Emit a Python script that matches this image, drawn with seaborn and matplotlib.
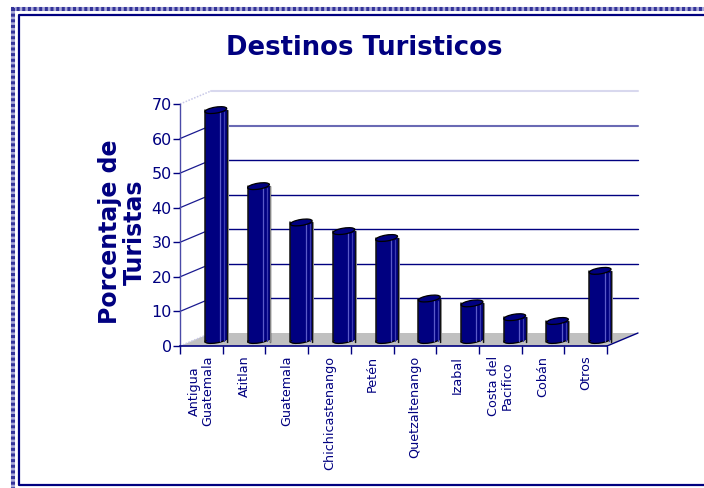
#!/usr/bin/env python3
"""Destinos Turisticos: pseudo 3D cylinder bars on a back wall."""

import matplotlib
matplotlib.use("Agg")
import matplotlib.pyplot as plt
import pandas as pd
import seaborn as sns
from matplotlib.patches import Ellipse, Polygon
from matplotlib.transforms import Affine2D

destinos = ['Antigua\nGuatemala', 'Atitlan', 'Guatemala', 'Chichicastenango', 'Petén',
            'Quetzaltenango', 'Izabal', 'Costa del\nPacifico', 'Cobán', 'Otros']
porcentaje = [66.5, 44.5, 34, 31.5, 29.5, 12, 10.6, 6.6, 5.5, 20]
y_ticks = [0, 10, 20, 30, 40, 50, 60, 70]

NAVY = '#000080'
W, H = 704, 488

sns.set_theme(style='white')
plt.rcParams['font.family'] = ['DejaVu Sans']

df = pd.DataFrame({'destino': destinos, 'porcentaje': porcentaje})

fig = plt.figure(figsize=(W / 100, H / 100), dpi=100, facecolor='white')

# pixel canvas behind the chart, for frame, floor and wall
bg = fig.add_axes([0, 0, 1, 1], zorder=0)
bg.set_xlim(0, W)
bg.set_ylim(H, 0)
bg.axis('off')

# chart axes sit exactly on the front plane
x0, x1, y_base, y_top = 180, 607, 346, 104
ax = fig.add_axes([x0 / W, 1 - y_base / H, (x1 - x0) / W, (y_base - y_top) / H], zorder=1)
ax.patch.set_alpha(0)

sns.barplot(data=df, x='destino', y='porcentaje', color=NAVY, width=0.515, saturation=1,
            ax=ax, zorder=3)
ax.set_xlim(-0.5, len(destinos) - 0.5)
ax.set_ylim(0, 70)

# outer dotted frame
for xs, ys in [((11, W), (9, 9)), ((13, 13), (8, H))]:
    bg.plot(xs, ys, color='#a8a8d8', lw=2.9, solid_capstyle='butt')
    bg.plot(xs, ys, color='#33339a', lw=2.9, dashes=(0.75, 0.65))
# inner frame, open on the right like the original
bg.plot([W, 18.5, 18.5, W], [14.5, 14.5, 485, 485], color=NAVY, lw=1.6)

# floor and walls
dx, dy = 31, 13
bg.add_patch(Polygon([(x0, y_base), (x1, y_base), (x1 + dx, y_base - dy), (x0 + dx, y_base - dy)],
                     facecolor='#c0c0c0', edgecolor='none', zorder=1))
bg.plot([x1, x1 + dx], [y_base, y_base - dy], color=NAVY, lw=1, zorder=2)
wall = ax.transData + Affine2D().translate(dx, dy)
for v in y_ticks[1:]:
    line_col = {70: '#d8d8ee', 60: '#6a6ab4'}.get(v, NAVY)
    ax.plot([-0.5, 9.5], [v, v], color=line_col, lw=1.5 if v > 50 else 1, transform=wall,
            clip_on=False, zorder=1)
    if v < 70:
        yp = ax.transData.transform((0, v))[1]
        bg.plot([x0, x0 + dx], [H - yp, H - yp - dy], color='#1a1a90', lw=0.9, zorder=1)
for yv in [y_base, y_top]:
    bg.plot([x0, x0 + dx], [yv, yv - dy], color='#c8c8e8', lw=1.1, ls=(0, (1, 1)), zorder=1)

# cylinders: push the bars to mid depth and cap them
shift_x, shift_y = 14.5, 6
to_px = bg.transData.inverted()
for bar in ax.patches:
    bar.set_transform(ax.transData + Affine2D().translate(shift_x, shift_y))
    bar.set_edgecolor('none')
    bar.set_clip_on(False)
    left = bar.get_x()
    right = left + bar.get_width()
    top = bar.get_height()
    px_l, py_top = to_px.transform(ax.transData.transform((left, top)) + (shift_x, shift_y))
    px_r, py_base = to_px.transform(ax.transData.transform((right, 0)) + (shift_x, shift_y))
    cx = (px_l + px_r) / 2
    w = px_r - px_l
    ax.add_patch(Ellipse((cx, py_base), w, 6, angle=-9, facecolor=NAVY, edgecolor='black', lw=0.9,
                         transform=bg.transData, clip_on=False, zorder=2.5))
    ax.add_patch(Ellipse((cx, py_top), w, 6, angle=-9, facecolor=NAVY, edgecolor='black', lw=0.9,
                         transform=bg.transData, clip_on=False, zorder=4))
    # black sides, grey fringe on the right
    for xp, col, lw in [(px_l, '#111111', 1.1), (px_r, '#111111', 1.0), (px_r + 0.9, '#8a8a8a', 0.7)]:
        ax.plot([xp, xp], [py_top, py_base + 1.5], color=col, lw=lw, transform=bg.transData,
                clip_on=False, zorder=3.5)
    # lighter strips along the right of the cylinder
    for off, col in [(w * 0.2, '#5a5ac8'), (w * 0.38, '#3c3cb0')]:
        ax.plot([cx + off, cx + off], [py_top + 2, py_base + 1], color=col, lw=0.9,
                transform=bg.transData, clip_on=False, zorder=3.5)

# axes, ticks, text
for side in ['top', 'right']:
    ax.spines[side].set_visible(False)
ax.spines['left'].set_color('#4a4aa8')
ax.spines['bottom'].set_color(NAVY)
ax.spines['left'].set_linewidth(1)
ax.spines['bottom'].set_linewidth(1.2)
ax.set_xlabel('')
ax.set_ylabel('')
ax.set_yticks(y_ticks)
ax.tick_params(axis='y', length=5, width=1, color=NAVY, labelcolor=NAVY, labelsize=11.5, pad=1, left=True)
ax.set_xticks(range(len(destinos)))
ax.set_xticklabels(destinos, rotation=90, fontsize=9.2, color=NAVY, ha='center', va='top',
                   multialignment='center', linespacing=1.05)
ax.tick_params(axis='x', which='major', length=0, pad=7)
ax.set_xticks([i - 0.5 for i in range(len(destinos) + 1)], minor=True)
ax.tick_params(axis='x', which='minor', length=6, width=1, color=NAVY, bottom=True)

bg.text(364, 48, 'Destinos Turisticos', ha='center', va='center', fontsize=18.6,
        fontweight='bold', color=NAVY)
bg.text(122, 232, 'Porcentaje de\nTuristas', ha='center', va='center', rotation=90, fontsize=17,
        fontweight='bold', color=NAVY, multialignment='center', linespacing=1.05)

fig.savefig('out.png', dpi=100)
